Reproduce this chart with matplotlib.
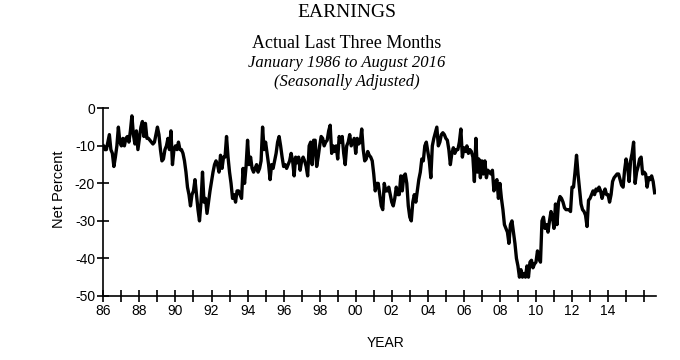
import matplotlib
matplotlib.use("Agg")
import matplotlib.pyplot as plt
import numpy as np

# monthly net percent, Jan 1986 .. Aug 2016 (one row per year)
start_year = 1986
net_percent = [
    -10, -11, -11, -9, -7, -11, -12, -15.5, -13, -10, -5, -9,          # 1986
    -10, -8, -10, -8, -7.5, -9, -6, -2, -7, -9.5, -6, -11,             # 1987
    -8, -5, -3.5, -7.5, -4, -8, -8, -8.5, -9, -9.5, -9, -7,            # 1988
    -5, -7, -11, -14, -13.5, -11, -10, -8, -11, -6, -15, -11,          # 1989
    -10, -11, -9, -11, -11, -12, -14, -17, -21, -23, -26, -23,         # 1990
    -22, -19, -23, -27, -30, -25, -17, -25, -24, -28, -25, -22,        # 1991
    -19.5, -17, -15, -14, -15, -17, -12.5, -16, -13, -13, -7.5, -13,   # 1992
    -17, -20, -24, -23, -25, -22, -22, -23, -24, -16, -20, -15.5,      # 1993
    -8.5, -15, -13, -16, -17, -16, -15, -17, -16, -14, -5, -11,        # 1994
    -9, -12, -15, -19, -15, -16, -14, -12, -9, -7.5, -10, -13,         # 1995
    -15.5, -15, -16, -15, -14, -12, -14, -18, -13, -14.5, -13, -16.5,  # 1996
    -14, -13, -14, -15.5, -18, -10, -9, -15, -8.5, -8.5, -15.5, -13,   # 1997
    -10, -7.5, -8, -10, -9, -8.5, -6, -4.5, -12, -10, -11.5, -10,      # 1998
    -13.5, -7.5, -9, -7.5, -12, -15, -10, -9, -7, -10, -9, -8,         # 1999
    -12, -8, -9.5, -9, -5.5, -11, -14, -13.5, -11.5, -12.5, -13, -14,  # 2000
    -17.5, -22, -20, -20, -23, -26, -27, -20, -22, -22, -21, -23,      # 2001
    -25, -26, -24, -21, -23, -23, -18, -22, -18, -17.5, -20, -26,      # 2002
    -29, -30, -25, -23, -25, -22, -19, -17, -13.5, -14, -10, -9,       # 2003
    -11.5, -14, -18.5, -10, -8, -6.5, -5, -10, -9, -7, -6.5, -7,       # 2004
    -8, -8.5, -11, -15, -12, -10.5, -12, -11, -11, -9, -5.5, -13,      # 2005
    -10.5, -11.5, -10, -12, -11, -11.5, -13, -19.5, -8, -17, -13.5, -18.5,  # 2006
    -14, -17.5, -14, -18.5, -16.5, -17, -17.5, -16.5, -22, -20, -19, -24,   # 2007
    -20, -24, -27, -31, -32, -33, -36, -31, -30, -33, -36, -40,        # 2008
    -42, -45, -43, -45, -44, -45, -42, -45, -41, -40.5, -42.5, -41.5,  # 2009
    -41, -38, -40, -41, -30, -29, -32, -31, -33, -30, -27.5, -29,      # 2010
    -32, -25.5, -31, -25, -23.5, -24, -25, -26.5, -27, -27, -27, -27.5,     # 2011
    -21, -21, -17, -12.5, -17.5, -21.5, -25.5, -27, -27.5, -28.5, -31.5, -24.5,  # 2012
    -24, -23, -22, -23, -21.5, -22, -21, -22, -24, -22.5, -21.5, -23,  # 2013
    -23, -25, -23, -19.5, -18.5, -18, -17.5, -17.5, -19, -20.5, -21, -16.5,  # 2014
    -13.5, -15.5, -19.5, -14, -12, -9, -20, -17, -15.5, -13.5, -13, -17.5,   # 2015
    -17, -17.5, -21, -18.5, -19, -18, -19.5, -22.5,                    # 2016
]

tick_years = list(range(1986, 2017))
label_years = list(range(1986, 2015, 2))
y_ticks = [0, -10, -20, -30, -40, -50]

serif = "Liberation Serif"
sans = "Liberation Sans"
plt.rcParams["axes.unicode_minus"] = False

months = start_year + np.arange(len(net_percent)) / 12.0

fig = plt.figure(figsize=(6.8, 3.6), dpi=100)
ax = fig.add_axes([0.152, 0.178, 0.813, 0.521])

ax.plot(months, net_percent, color="black", lw=2.4, solid_joinstyle="round")

ax.set_xlim(1986, 2016.67)
ax.set_ylim(-50, 0)

ax.set_xticks(tick_years)
ax.set_xticklabels([("%02d" % (y % 100)) if y in label_years else "" for y in tick_years],
                   fontfamily=sans, fontsize=10)
ax.set_yticks(y_ticks)
ax.set_yticklabels([str(v) for v in y_ticks], fontfamily=sans, fontsize=10)
ax.tick_params(direction="inout", length=8, width=1.2, color="black", pad=2)

for side in ["top", "right"]:
    ax.spines[side].set_visible(False)
for side in ["left", "bottom"]:
    ax.spines[side].set_linewidth(1.2)

ax.set_ylabel("Net Percent", fontfamily=sans, fontsize=10.5)
ax.yaxis.set_label_coords(-0.068, 0.57)
ax.set_xlabel("YEAR", fontfamily=sans, fontsize=10)
ax.xaxis.set_label_coords(0.51, -0.215)

fig.text(0.51, 0.965, "EARNINGS", ha="center", va="center", fontfamily=serif, fontsize=14)
fig.text(0.51, 0.878, "Actual Last Three Months", ha="center", va="center",
         fontfamily=serif, fontsize=13)
fig.text(0.51, 0.825, "January 1986 to August 2016", ha="center", va="center",
         fontfamily=serif, fontsize=12, style="italic")
fig.text(0.51, 0.772, "(Seasonally Adjusted)", ha="center", va="center",
         fontfamily=serif, fontsize=12, style="italic")

fig.savefig("out.png", dpi=100)
